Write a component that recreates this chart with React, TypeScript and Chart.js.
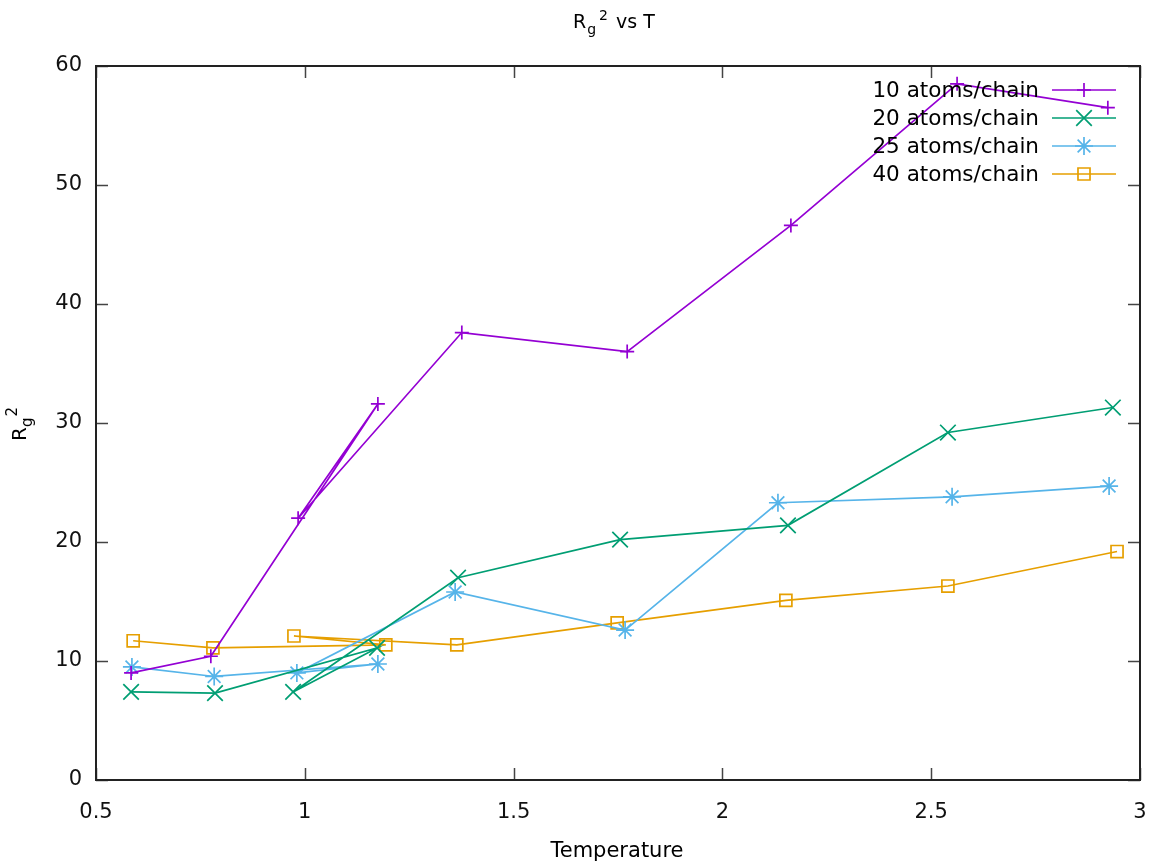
import React, { useEffect, useRef } from 'react';
import { Chart, registerables } from 'chart.js';

Chart.register(...registerables);

// ---- data (lines follow data order) ----
const T10 = [0.584, 0.775, 1.175, 0.984, 1.376, 1.772, 2.164, 2.562, 2.923];
const R10 = [9.0, 10.4, 31.6, 22.0, 37.6, 36.0, 46.6, 58.5, 56.5];

const T20 = [0.584, 0.785, 1.173, 0.972, 1.367, 1.755, 2.157, 2.54, 2.935];
const R20 = [7.4, 7.3, 11.1, 7.4, 17.0, 20.2, 21.4, 29.2, 31.3];

const T25 = [0.586, 0.783, 1.175, 0.981, 1.36, 1.767, 2.133, 2.55, 2.926];
const R25 = [9.5, 8.7, 9.75, 9.0, 15.8, 12.6, 23.3, 23.8, 24.7];

const T40 = [0.589, 0.78, 1.194, 0.974, 1.364, 1.748, 2.152, 2.54, 2.945];
const R40 = [11.7, 11.1, 11.35, 12.1, 11.35, 13.2, 15.1, 16.3, 19.2];

const SERIES_LABELS = ['10 atoms/chain', '20 atoms/chain', '25 atoms/chain', '40 atoms/chain'];
const X_TICKS = [0.5, 1, 1.5, 2, 2.5, 3];
const Y_TICKS = [0, 10, 20, 30, 40, 50, 60];
const X_LABEL = 'Temperature';

const COLORS = ['#9400d3', '#009e73', '#56b4e9', '#e69f00'];
const STYLES = ['cross', 'crossRot', 'star', 'rect'];
const RADII = [7, 11, 9, 8.5];
const FONT = '"DejaVu Sans", sans-serif';

function toPts(xs: number[], ys: number[]) {
  return xs.map((x, i) => ({ x, y: ys[i] }));
}

function drawMarker(ctx: CanvasRenderingContext2D, style: string, x: number, y: number, r: number) {
  ctx.beginPath();
  const d = r * Math.SQRT1_2;
  if (style === 'cross' || style === 'star') {
    ctx.moveTo(x - r, y); ctx.lineTo(x + r, y);
    ctx.moveTo(x, y - r); ctx.lineTo(x, y + r);
  }
  if (style === 'crossRot' || style === 'star') {
    ctx.moveTo(x - d, y - d); ctx.lineTo(x + d, y + d);
    ctx.moveTo(x - d, y + d); ctx.lineTo(x + d, y - d);
  }
  if (style === 'rect') {
    ctx.rect(x - d, y - d, 2 * d, 2 * d);
  }
  ctx.stroke();
}

type Seg = { t: string; size: number; dy: number; gap?: number };
function drawRich(ctx: CanvasRenderingContext2D, segs: Seg[], x: number, y: number) {
  let cx = x;
  ctx.textAlign = 'left';
  ctx.textBaseline = 'alphabetic';
  for (const s of segs) {
    ctx.font = `${s.size}px ${FONT}`;
    cx += s.gap || 0;
    ctx.fillText(s.t, cx, y + s.dy);
    cx += ctx.measureText(s.t).width;
  }
}

const decorPlugin = {
  id: 'decor',
  afterDraw(chart: any) {
    const ctx: CanvasRenderingContext2D = chart.ctx;
    const a = chart.chartArea;
    const xs = chart.scales.x;
    const ys = chart.scales.y;
    ctx.save();
    // inward ticks, all four sides
    ctx.strokeStyle = '#444';
    ctx.lineWidth = 1.5;
    const TL = 12;
    ctx.beginPath();
    xs.ticks.forEach((t: any) => {
      const px = Math.round(xs.getPixelForValue(t.value)) + 0.5;
      ctx.moveTo(px, a.bottom); ctx.lineTo(px, a.bottom - TL);
      ctx.moveTo(px, a.top); ctx.lineTo(px, a.top + TL);
    });
    ys.ticks.forEach((t: any) => {
      const py = Math.round(ys.getPixelForValue(t.value)) + 0.5;
      ctx.moveTo(a.left, py); ctx.lineTo(a.left + TL, py);
      ctx.moveTo(a.right, py); ctx.lineTo(a.right - TL, py);
    });
    ctx.stroke();
    // frame
    ctx.strokeStyle = '#222';
    ctx.lineWidth = 2;
    ctx.strokeRect(a.left, a.top, a.right - a.left, a.bottom - a.top);

    // title
    ctx.fillStyle = '#000';
    drawRich(ctx, [
      { t: 'R', size: 19, dy: 0 },
      { t: 'g', size: 14, dy: 6, gap: 1 },
      { t: '2', size: 14, dy: -8, gap: 3 },
      { t: ' vs T', size: 19, dy: 0, gap: 2 },
    ], 573, 28);

    // y label (rotated)
    ctx.save();
    ctx.translate(26, 441);
    ctx.rotate(-Math.PI / 2);
    drawRich(ctx, [
      { t: 'R', size: 20, dy: 0 },
      { t: 'g', size: 15, dy: 6, gap: 0 },
      { t: '2', size: 15, dy: -9, gap: 1 },
    ], 0, 0);
    ctx.restore();

    // x label
    ctx.font = `21px ${FONT}`;
    ctx.textAlign = 'center';
    ctx.textBaseline = 'alphabetic';
    ctx.fillText(X_LABEL, 617, 857);

    // legend
    const rowY = [90, 118, 146, 174];
    SERIES_LABELS.forEach((lab, i) => {
      const y = rowY[i];
      ctx.fillStyle = '#000';
      ctx.font = `21.5px ${FONT}`;
      ctx.textAlign = 'right';
      ctx.textBaseline = 'middle';
      ctx.fillText(lab, 1039, y + 1);
      ctx.strokeStyle = COLORS[i];
      ctx.lineWidth = 1.7;
      ctx.beginPath();
      ctx.moveTo(1052, y); ctx.lineTo(1116, y);
      ctx.stroke();
      drawMarker(ctx, STYLES[i], 1084, y, RADII[i]);
    });
    ctx.restore();
  },
};

export default function App() {
  const ref = useRef<HTMLCanvasElement | null>(null);
  useEffect(() => {
    if (!ref.current) return;
    const sets = [
      toPts(T10, R10),
      toPts(T20, R20),
      toPts(T25, R25),
      toPts(T40, R40),
    ];
    const chart = new Chart(ref.current, {
      type: 'scatter',
      data: {
        datasets: sets.map((d, i) => ({
          label: SERIES_LABELS[i],
          data: d,
          showLine: true,
          borderColor: COLORS[i],
          backgroundColor: 'rgba(0,0,0,0)',
          borderWidth: 1.7,
          pointStyle: STYLES[i] as any,
          pointRadius: RADII[i],
          pointBorderWidth: 1.7,
          pointBorderColor: COLORS[i],
          pointBackgroundColor: 'rgba(0,0,0,0)',
          tension: 0,
        })),
      },
      options: {
        animation: false,
        responsive: false,
        layout: { padding: { left: 0, top: 66, right: 30, bottom: 0 } },
        plugins: {
          legend: { display: false },
          title: { display: false },
          tooltip: { enabled: false },
        },
        scales: {
          x: {
            type: 'linear',
            min: 0.5,
            max: 3,
            grid: { display: false, drawTicks: false },
            border: { display: false },
            afterBuildTicks: (s: any) => { s.ticks = X_TICKS.map((v) => ({ value: v })); },
            afterFit: (s: any) => { s.height = 84; },
            ticks: {
              font: { family: FONT, size: 21 },
              color: '#111',
              padding: 20,
              maxRotation: 0,
              callback: (v: any) => String(v),
            },
          },
          y: {
            type: 'linear',
            min: 0,
            max: 60,
            grid: { display: false, drawTicks: false },
            border: { display: false },
            afterBuildTicks: (s: any) => { s.ticks = Y_TICKS.map((v) => ({ value: v })); },
            afterFit: (s: any) => { s.width = 96; },
            ticks: {
              font: { family: FONT, size: 21 },
              color: '#111',
              padding: 14,
              callback: (v: any) => String(v),
            },
          },
        },
      },
      plugins: [decorPlugin],
    });
    return () => chart.destroy();
  }, []);
  return (
    <div style={{ position: 'absolute', left: 0, top: 0, width: 1170, height: 864, background: '#fff' }}>
      <canvas ref={ref} width={1170} height={864} style={{ width: 1170, height: 864 }} />
    </div>
  );
}
